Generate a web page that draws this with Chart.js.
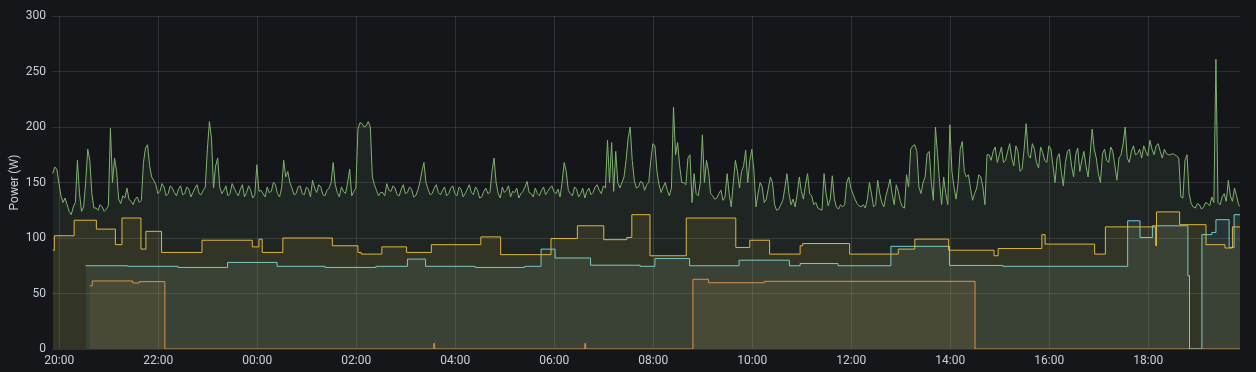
<!DOCTYPE html>
<html>
<head>
<meta charset="utf-8">
<script src="https://cdn.jsdelivr.net/npm/chart.js@4"></script>
<style>
  html, body { margin: 0; padding: 0; background: #15161a; }
  #wrap { position: relative; width: 1256px; height: 372px; }
</style>
</head>
<body>
<div id="wrap"><canvas id="powerChart"></canvas></div>
<script>
// x axis ticks (hours after 20:00) and their labels
const xTickHours = [0, 2, 4, 6, 8, 10, 12, 14, 16, 18, 20, 22];
const xTickLabels = ['20:00', '22:00', '00:00', '02:00', '04:00', '06:00', '08:00', '10:00', '12:00', '14:00', '16:00', '18:00'];

// green series: one reading every 2.5 minutes starting at 19:52
const greenStart = '19:52';
const greenStepMin = 2.5;
const greenValues = [
  158, 164, 162, 150, 138, 132, 136, 130, 124, 121, 128, 132, 170, 140, 124, 128, 150, 180, 170, 140,
  127, 127, 125, 130, 128, 124, 126, 129, 199, 150, 172, 160, 135, 131, 138, 136, 145, 135, 133, 130,
  135, 137, 132, 134, 168, 181, 184, 165, 155, 152, 148, 140, 142, 149, 146, 138, 140, 147, 145, 141,
  138, 144, 147, 139, 140, 146, 144, 137, 141, 145, 148, 140, 139, 143, 146, 180, 205, 190, 145, 165,
  172, 146, 140, 143, 147, 138, 140, 149, 145, 141, 138, 144, 148, 137, 141, 147, 143, 136, 139, 166,
  142, 143, 140, 137, 146, 141, 142, 150, 148, 140, 137, 145, 170, 155, 160, 150, 145, 139, 140, 146,
  147, 140, 139, 146, 144, 137, 152, 145, 141, 148, 146, 139, 138, 143, 145, 150, 168, 148, 141, 137,
  146, 142, 140, 150, 162, 138, 142, 145, 198, 204, 203, 200, 201, 205, 200, 155, 148, 143, 138, 141,
  141, 138, 149, 143, 142, 147, 145, 139, 138, 144, 148, 140, 141, 146, 144, 137, 138, 143, 150, 160,
  168, 150, 144, 139, 140, 145, 148, 141, 139, 143, 146, 138, 140, 145, 147, 140, 138, 146, 144, 137,
  140, 144, 148, 141, 139, 146, 143, 136, 137, 142, 145, 140, 141, 160, 172, 150, 140, 136, 146, 141,
  143, 147, 137, 142, 141, 145, 136, 140, 142, 146, 151, 141, 140, 137, 145, 140, 138, 143, 146, 139,
  142, 145, 147, 142, 140, 144, 137, 150, 168, 160, 143, 140, 138, 146, 144, 137, 140, 145, 136, 142,
  145, 139, 141, 146, 148, 143, 140, 147, 145, 188, 150, 186, 142, 178, 150, 145, 150, 155, 170, 190,
  200, 170, 152, 145, 146, 151, 150, 143, 148, 150, 170, 185, 183, 160, 148, 141, 146, 150, 143, 138,
  145, 218, 175, 186, 165, 150, 150, 148, 172, 175, 132, 158, 140, 138, 150, 193, 150, 170, 160, 140,
  138, 135, 136, 140, 143, 134, 137, 158, 140, 128, 150, 170, 160, 145, 160, 165, 179, 150, 170, 180,
  160, 128, 140, 150, 146, 132, 135, 145, 155, 150, 130, 125, 126, 130, 134, 145, 158, 140, 130, 135,
  128, 140, 155, 142, 135, 148, 158, 140, 138, 130, 132, 127, 126, 125, 158, 140, 129, 135, 156, 135,
  128, 126, 130, 128, 130, 150, 155, 145, 140, 135, 131, 129, 128, 130, 127, 135, 150, 140, 128, 130,
  152, 140, 132, 128, 138, 145, 153, 140, 130, 148, 142, 133, 128, 127, 157, 146, 180, 183, 184, 178,
  146, 140, 150, 155, 176, 178, 150, 134, 200, 176, 150, 130, 155, 140, 130, 202, 160, 146, 135, 150,
  180, 187, 160, 155, 157, 145, 134, 140, 145, 157, 155, 146, 130, 175, 175, 170, 178, 182, 168, 175,
  182, 168, 170, 178, 185, 172, 165, 183, 178, 160, 162, 180, 203, 175, 172, 185, 180, 168, 163, 182,
  177, 170, 168, 183, 180, 165, 150, 172, 176, 160, 147, 168, 178, 180, 165, 155, 175, 181, 160, 170,
  178, 165, 155, 175, 198, 180, 172, 158, 150, 176, 180, 170, 168, 182, 178, 165, 152, 172, 175, 185,
  200, 172, 168, 178, 183, 175, 176, 180, 172, 183, 178, 174, 188, 180, 175, 183, 185, 178, 172, 180,
  176, 175, 175, 176, 175, 174, 172, 137, 136, 170, 175, 140, 131, 128, 127, 131, 130, 126, 128, 132,
  131, 129, 137, 132, 261, 132, 130, 137, 140, 133, 152, 138, 133, 145, 138, 130, 128
];

// yellow series: change times and new values
const yellowTimes = [
  '19:52', '19:54', '20:18', '20:45', '21:08', '21:16', '21:39', '21:45', '22:04', '22:53',
  '23:54', '00:02', '00:06', '00:31', '01:31', '02:02', '02:06', '02:31', '03:01', '03:31',
  '04:31', '04:55', '05:56', '06:28', '07:00', '07:28', '07:34', '07:56', '08:40', '09:40',
  '09:57', '10:21', '10:58', '11:01', '11:58', '12:57', '13:17', '13:58', '14:53', '14:58',
  '15:51', '15:55', '16:55', '17:08', '18:09', '18:10', '18:38', '19:10', '19:33', '19:42',
  '19:52'
];
const yellowValues = [
  89, 102, 116, 108, 94, 118, 90, 106, 87, 98,
  92, 99, 87, 100, 93, 87, 85.5, 92, 87, 94,
  101, 85, 99.5, 111, 98.5, 100.5, 121, 84, 118, 91.5,
  98, 85.5, 93, 95, 85.5, 90, 99, 89, 84, 90.5,
  103, 94.5, 85.5, 110, 93, 123.5, 112, 94, 91, 110,
  110
];

// cyan series
const cyanTimes = [
  '20:32', '21:23', '22:24', '23:24', '00:24', '01:22', '02:24', '03:02', '03:24', '04:24',
  '05:24', '05:44', '06:01', '06:44', '07:44', '08:02', '08:44', '09:44', '10:45', '10:58',
  '11:44', '12:48', '13:59', '15:04', '16:54', '17:35', '17:50', '18:05', '18:48', '18:50',
  '19:05', '19:17', '19:22', '19:38', '19:44', '19:52'
];
const cyanValues = [
  75, 74.5, 73.5, 78, 74.5, 73.5, 74.5, 81, 74.5, 73.5,
  74.5, 90, 82, 75.5, 74.5, 81.5, 75, 80, 75, 77,
  75, 92.5, 75.3, 74.5, 74.5, 115.5, 100.5, 111, 66, 0,
  103, 105, 116.5, 91.5, 121, 121
];

// orange series
const orangeTimes = [
  '20:37', '20:40', '21:29', '21:37', '22:08', '03:34', '03:35', '06:37', '06:38', '08:48',
  '09:07', '10:15', '14:30', '19:52'
];
const orangeValues = [
  57, 61.3, 59.5, 60.7, 0, 5, 0, 5, 0, 62.8,
  59.7, 61, 0, 0
];

// "HH:MM" list -> hours after 20:00, rolling over midnight
function toHours(times) {
  let off = 0, prev = -Infinity;
  return times.map(t => {
    const [h, m] = t.split(':').map(Number);
    let v = h + m / 60 - 20 + off;
    if (v < prev) { off += 24; v += 24; }
    prev = v;
    return v;
  });
}

function toPoints(times, values) {
  const hrs = toHours(times);
  return values.map((v, i) => ({ x: hrs[i], y: v }));
}

const greenX0 = toHours([greenStart])[0];
const greenData = greenValues.map((v, i) => ({ x: greenX0 + i * greenStepMin / 60, y: v }));

const line = (color, fillColor, data, stepped) => ({
  data,
  borderColor: color,
  backgroundColor: fillColor,
  borderWidth: 1,
  pointRadius: 0,
  pointHoverRadius: 0,
  fill: 'origin',
  stepped,
  tension: 0
});

const ctx = document.getElementById('powerChart').getContext('2d');
const chart = new Chart(ctx, {
  type: 'line',
  data: {
    datasets: [
      line('#7EB26D', 'rgba(126, 178, 109, 0.1)', greenData, false),
      line('#EAB839', 'rgba(234, 184, 57, 0.1)', toPoints(yellowTimes, yellowValues), true),
      line('#6ED0E0', 'rgba(110, 208, 224, 0.1)', toPoints(cyanTimes, cyanValues), true),
      line('#EF843C', 'rgba(239, 132, 60, 0.1)', toPoints(orangeTimes, orangeValues), true)
    ]
  },
  options: {
    responsive: true,
    maintainAspectRatio: false,
    animation: false,
    layout: { padding: { left: 0, top: 16, right: 16, bottom: 0 } },
    plugins: {
      legend: { display: false },
      tooltip: { enabled: false }
    },
    scales: {
      x: {
        type: 'linear',
        min: -0.147,
        max: 23.853,
        afterBuildTicks: scale => { scale.ticks = xTickHours.map(v => ({ value: v })); },
        afterFit: scale => { scale.height = 23; },
        border: { display: false },
        grid: { color: 'rgba(204, 204, 220, 0.14)', drawTicks: false },
        ticks: {
          color: '#c7d0d9',
          font: { family: 'Roboto', size: 12 },
          padding: 5,
          maxRotation: 0,
          autoSkip: false,
          callback: value => xTickLabels[xTickHours.indexOf(value)] || ''
        }
      },
      y: {
        min: 0,
        max: 300,
        afterFit: scale => { scale.width = 52; },
        border: { display: false },
        grid: { color: 'rgba(204, 204, 220, 0.14)', drawTicks: false },
        title: {
          display: true,
          text: 'Power (W)',
          color: '#c7d0d9',
          font: { family: 'Roboto', size: 12 },
          padding: { top: 8, bottom: 0 }
        },
        ticks: {
          stepSize: 50,
          color: '#c7d0d9',
          font: { family: 'Roboto', size: 12 },
          padding: 6
        }
      }
    }
  }
});
</script>
</body>
</html>
